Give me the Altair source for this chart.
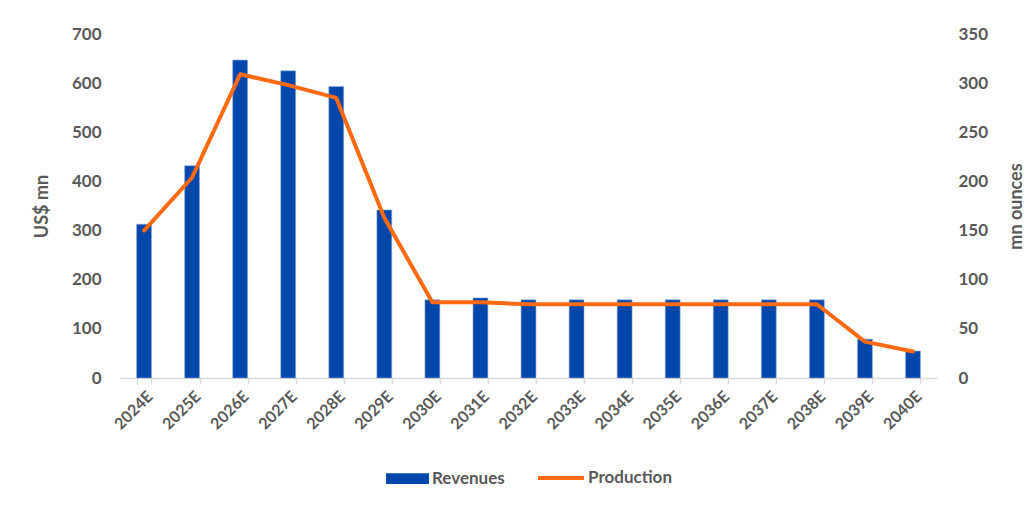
import altair as alt
import pandas as pd

years = ["2024E", "2025E", "2026E", "2027E", "2028E", "2029E", "2030E", "2031E",
         "2032E", "2033E", "2034E", "2035E", "2036E", "2037E", "2038E", "2039E", "2040E"]
revenues = [313, 432, 647, 625, 593, 342, 159, 163, 159, 159, 159, 159, 159, 159, 159, 79, 55]
production = [150, 204, 309, 298, 285, 163, 77, 77, 75, 75, 75, 75, 75, 75, 75, 37, 27]

df = pd.DataFrame({
    "year": years,
    "Revenues": revenues,
    "Production": production,
    "s_rev": ["Revenues"] * len(years),
    "s_prod": ["Production"] * len(years),
})

FONT = "Lato"
GREY = "#595959"
BLUE = "#0047AB"
ORANGE = "#FF6A13"

x_enc = alt.X(
    "year:N",
    sort=years,
    title=None,
    scale=alt.Scale(paddingInner=0.69, paddingOuter=0.345),
    axis=alt.Axis(
        labelAngle=-45,
        labelFont=FONT,
        labelFontSize=16,
        labelFontWeight="bold",
        labelColor=GREY,
        labelPadding=4,
        domainColor="#D9D9D9",
        domainWidth=1.5,
        tickColor="#D9D9D9",
        tickWidth=1.5,
        tickSize=6,
        tickBand="extent",
        grid=False,
    ),
)

bars = alt.Chart(df).mark_bar(stroke="#8EA9DB", strokeWidth=0.6).encode(
    x=x_enc,
    y=alt.Y(
        "Revenues:Q",
        scale=alt.Scale(domain=[0, 700], nice=False),
        axis=alt.Axis(
            title="US$ mn",
            values=[0, 100, 200, 300, 400, 500, 600, 700],
            orient="left",
            grid=False,
            domain=False,
            ticks=False,
            labelPadding=19,
            labelFont=FONT,
            labelFontSize=17,
            labelFontWeight="bold",
            labelColor=GREY,
            titleFont=FONT,
            titleFontSize=18,
            titleFontWeight="bold",
            titleColor=GREY,
            titlePadding=20,
        ),
    ),
    fill=alt.Fill(
        "s_rev:N",
        scale=alt.Scale(domain=["Revenues"], range=[BLUE]),
        legend=alt.Legend(
            title=None,
            orient="none",
            legendX=266,
            legendY=423,
            symbolType="M-1,-0.25H1V0.25H-1Z",
            symbolSize=1849,
            symbolStrokeWidth=0,
            labelFont=FONT,
            labelFontSize=17,
            labelFontWeight="bold",
            labelColor=GREY,
            labelOffset=3,
        ),
    ),
)

line = alt.Chart(df).mark_line(strokeWidth=4, strokeCap="round", strokeJoin="round").encode(
    x=x_enc,
    y=alt.Y(
        "Production:Q",
        scale=alt.Scale(domain=[0, 350], nice=False),
        axis=alt.Axis(
            title="mn ounces",
            values=[0, 50, 100, 150, 200, 250, 300, 350],
            orient="right",
            grid=False,
            domain=False,
            ticks=False,
            labelPadding=21,
            labelFont=FONT,
            labelFontSize=17,
            labelFontWeight="bold",
            labelColor=GREY,
            titleFont=FONT,
            titleFontSize=18,
            titleFontWeight="bold",
            titleColor=GREY,
            titleAngle=270,
            titlePadding=38,
        ),
    ),
    stroke=alt.Stroke(
        "s_prod:N",
        scale=alt.Scale(domain=["Production"], range=[ORANGE]),
        legend=alt.Legend(
            title=None,
            orient="none",
            legendX=416,
            legendY=419,
            symbolType="stroke",
            symbolSize=2116,
            symbolStrokeWidth=4,
            labelFont=FONT,
            labelFontSize=17,
            labelFontWeight="bold",
            labelColor=GREY,
            labelOffset=2,
        ),
    ),
)

chart = (
    alt.layer(bars, line)
    .resolve_scale(y="independent", fill="independent", stroke="independent")
    .properties(
        width=817,
        height=344,
        autosize="none",
        padding={"left": 120, "top": 34, "right": 98, "bottom": 129},
        background="white",
    )
    .configure_view(stroke=None)
)

chart.save("out.html", embed_options={"renderer": "svg", "actions": False})
